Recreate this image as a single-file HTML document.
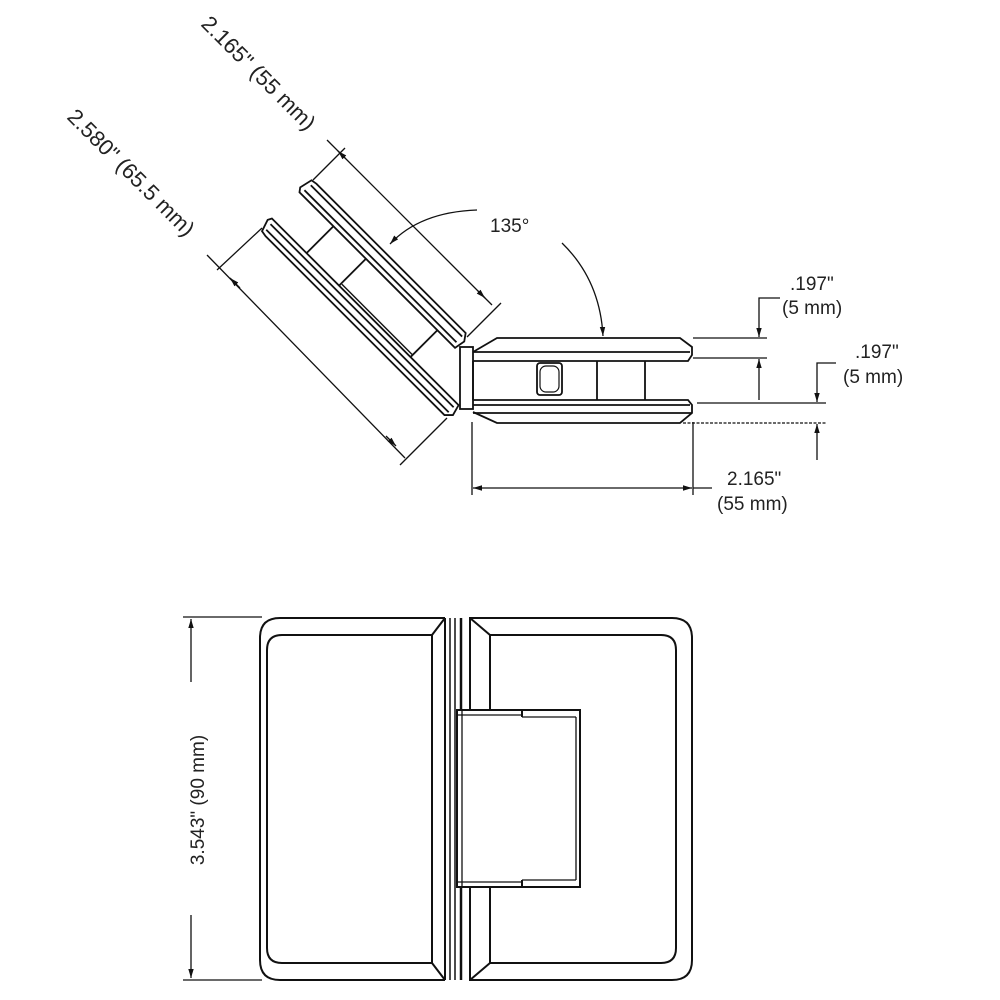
<!DOCTYPE html>
<html><head><meta charset="utf-8"><style>
html,body{margin:0;padding:0;background:#fff}
svg{display:block}
text{font-family:"Liberation Sans",sans-serif;fill:#222}
</style></head><body>
<svg width="1000" height="1000" viewBox="0 0 1000 1000" xmlns="http://www.w3.org/2000/svg">
<defs>
<marker id="ar" viewBox="0 0 10 10" refX="10" refY="5" markerWidth="7" markerHeight="7" orient="auto-start-reverse"><path d="M0,2 L10,5 L0,8 z" fill="#111"/></marker>
</defs>
<g fill="none" stroke="#111" stroke-width="1.8">
<!-- angled part -->
<g transform="translate(460,350) rotate(225)">
  <!-- near plate -->
  <path d="M5,-2 L225,-2 L228,2 L225,15 L219,16 L8,16 L3,9 Z"/>
  <line x1="8" y1="3" x2="223" y2="3"/>
  <line x1="8" y1="11" x2="222" y2="11"/>
  <!-- far plate -->
  <path d="M-38,-40 L226,-40 L228,-44 L224,-56 L218,-57 L-35,-57 L-41,-51 Z"/>
  <line x1="-36" y1="-45" x2="223" y2="-45"/>
  <line x1="-36" y1="-52" x2="222" y2="-52"/>
  <line x1="30" y1="-37" x2="130" y2="-37" stroke-width="1.4"/>
  <!-- rungs -->
  <line x1="30" y1="-40" x2="30" y2="-2"/>
  <line x1="131" y1="-40" x2="131" y2="-2"/>
  <line x1="177" y1="-40" x2="177" y2="-2"/>
</g>
<!-- hinge bar -->
<rect x="460" y="347" width="13" height="62"/>
<!-- right body top plate -->
<path d="M473,352 L497,338 L680,338 L692,347 L692,355 L688,361 L473,361"/>
<line x1="473" y1="352" x2="690" y2="352"/>
<path d="M473,400 L688,400 L692,405 L692,413 L680,423 L497,423 L473,412"/>
<line x1="473" y1="405" x2="690" y2="405"/>
<line x1="473" y1="413" x2="692" y2="413"/>
<line x1="473" y1="361" x2="473" y2="400"/>
<line x1="597" y1="361" x2="597" y2="400"/>
<line x1="645" y1="361" x2="645" y2="400"/>
<rect x="537" y="363" width="25" height="32" rx="3"/>
<rect x="540" y="366" width="19" height="26" rx="6" stroke-width="1.2"/>
</g>
<!-- dimension lines top -->
<g fill="none" stroke="#111" stroke-width="1.3">
  <line x1="313" y1="180" x2="345" y2="148"/>
  <line x1="467" y1="337" x2="501" y2="303"/>
  <line x1="327" y1="140" x2="492" y2="305"/>
  <line x1="345" y1="158" x2="338" y2="151" marker-end="url(#ar)"/>
  <line x1="478" y1="291" x2="485" y2="298" marker-end="url(#ar)"/>
  <line x1="217" y1="270" x2="262" y2="228"/>
  <line x1="400" y1="465" x2="447" y2="418"/>
  <line x1="207" y1="255" x2="405" y2="458"/>
  <line x1="240" y1="288" x2="230" y2="278" marker-end="url(#ar)"/>
  <line x1="386" y1="436" x2="396" y2="446" marker-end="url(#ar)"/>
  <path d="M477,210 Q420,212 390,244" marker-end="url(#ar)"/>
  <path d="M562,243 Q600,280 603,336" marker-end="url(#ar)"/>
  <line x1="693" y1="338" x2="767" y2="338"/>
  <line x1="693" y1="358" x2="767" y2="358"/>
  <path d="M780,298 L759,298 L759,337" marker-end="url(#ar)"/>
  <line x1="759" y1="400" x2="759" y2="359" marker-end="url(#ar)"/>
  <line x1="697" y1="403" x2="826" y2="403"/>
  <line x1="683" y1="423" x2="826" y2="423" stroke-dasharray="3,1.5"/>
  <path d="M836,363 L817,363 L817,402" marker-end="url(#ar)"/>
  <line x1="817" y1="460" x2="817" y2="424" marker-end="url(#ar)"/>
  <line x1="472" y1="422" x2="472" y2="495"/>
  <line x1="693" y1="422" x2="693" y2="495"/>
  <line x1="480" y1="488" x2="473" y2="488" marker-end="url(#ar)"/>
  <line x1="480" y1="488" x2="686" y2="488"/>
  <line x1="686" y1="488" x2="692" y2="488" marker-end="url(#ar)"/>
  <line x1="693" y1="488" x2="712" y2="488"/>
  <line x1="183" y1="617" x2="262" y2="617"/>
  <line x1="183" y1="980" x2="262" y2="980"/>
  <line x1="191" y1="682" x2="191" y2="619" marker-end="url(#ar)"/>
  <line x1="191" y1="915" x2="191" y2="978" marker-end="url(#ar)"/>
</g>
<!-- bottom view -->
<g fill="none" stroke="#111" stroke-width="2">
  <path d="M445,618 L280,618 Q260,618 260,638 L260,960 Q260,980 280,980 L445,980"/>
  <path d="M432,635 L282,635 Q267,635 267,650 L267,948 Q267,963 282,963 L432,963"/>
  <line x1="432" y1="635" x2="432" y2="963"/>
  <line x1="432" y1="635" x2="445" y2="618"/>
  <line x1="432" y1="963" x2="445" y2="980"/>
  <line x1="445" y1="618" x2="445" y2="980"/>
  <line x1="450" y1="618" x2="450" y2="980" stroke-width="1.5"/>
  <line x1="455" y1="618" x2="455" y2="980" stroke-width="1.5"/>
  <line x1="461" y1="618" x2="461" y2="980" stroke-width="2.5"/>
  <path d="M470,618 L672,618 Q692,618 692,638 L692,960 Q692,980 672,980 L470,980 Z"/>
  <path d="M490,635 L661,635 Q676,635 676,650 L676,948 Q676,963 661,963 L490,963"/>
  <line x1="470" y1="618" x2="490" y2="635"/>
  <line x1="470" y1="980" x2="490" y2="963"/>
  <line x1="490" y1="635" x2="490" y2="710"/>
  <line x1="490" y1="887" x2="490" y2="963"/>
  <rect x="457" y="710" width="123" height="177" fill="#fff"/>
  <line x1="457" y1="715" x2="522" y2="715" stroke-width="1.3"/>
  <line x1="522" y1="710" x2="522" y2="717"/>
  <line x1="522" y1="717" x2="576" y2="717" stroke-width="1.3"/>
  <line x1="576" y1="717" x2="576" y2="880" stroke-width="1.3"/>
  <line x1="457" y1="882" x2="522" y2="882" stroke-width="1.3"/>
  <line x1="522" y1="880" x2="522" y2="887"/>
  <line x1="522" y1="880" x2="576" y2="880" stroke-width="1.3"/>
  <line x1="462" y1="710" x2="462" y2="887" stroke-width="1.3"/>
</g>
<!-- text -->
<text x="0" y="0" font-size="22" transform="translate(200,25) rotate(45)">2.165" (55 mm)</text>
<text x="0" y="0" font-size="22" transform="translate(66,118) rotate(45)">2.580" (65.5 mm)</text>
<text x="490" y="232" font-size="19">135°</text>
<text x="790" y="290" font-size="19">.197"</text>
<text x="782" y="314" font-size="19">(5 mm)</text>
<text x="855" y="358" font-size="19">.197"</text>
<text x="843" y="383" font-size="19">(5 mm)</text>
<text x="727" y="485" font-size="19">2.165"</text>
<text x="717" y="510" font-size="19">(55 mm)</text>
<text x="0" y="0" font-size="19" text-anchor="middle" transform="translate(204,800) rotate(-90)">3.543" (90 mm)</text>
</svg>
</body></html>
